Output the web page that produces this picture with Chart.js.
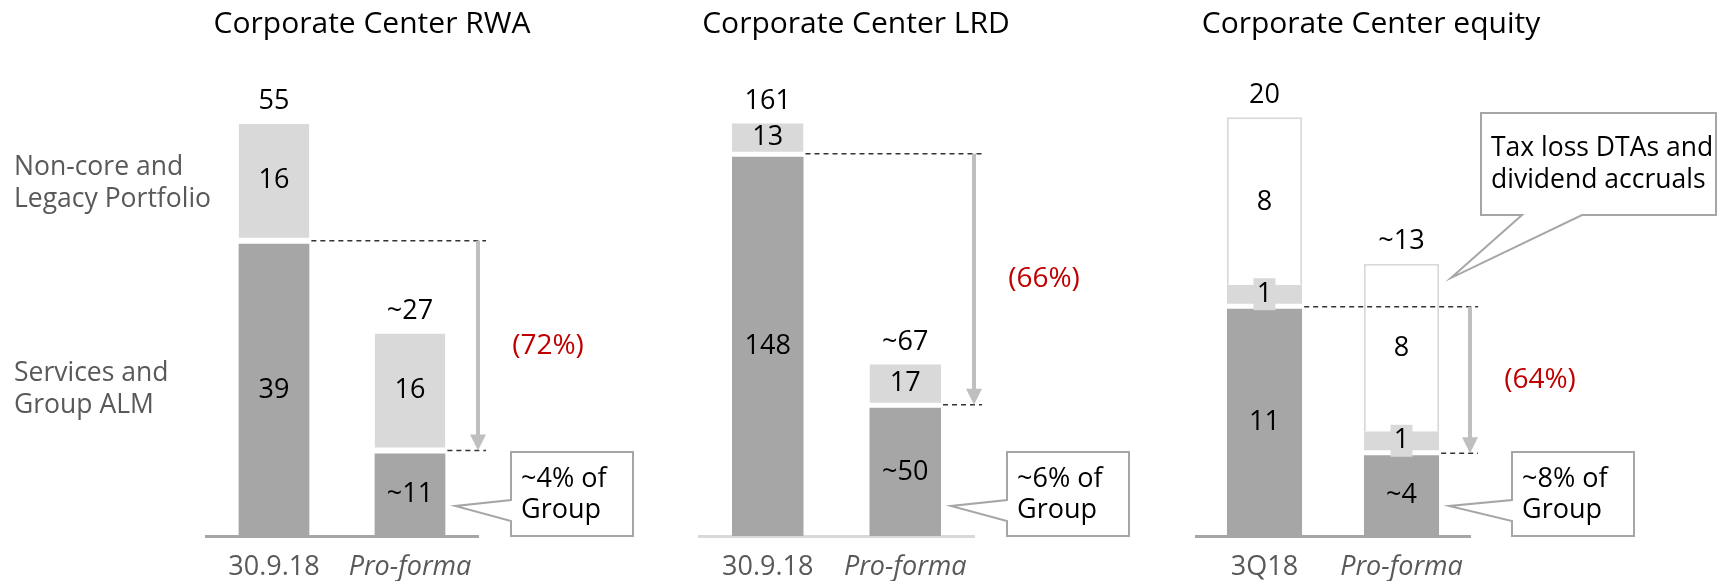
<!DOCTYPE html>
<html lang="en">
<head>
  <meta charset="UTF-8">
  <title>Corporate Center RWA, LRD and equity</title>
  <script src="https://cdn.jsdelivr.net/npm/chart.js"></script>
  <style>
    html, body { margin: 0; padding: 0; background: #fff; overflow: hidden; }
    body { width: 1719px; height: 581px; position: relative; }
    canvas { position: absolute; top: 0; display: block; }
  </style>
</head>
<body>
  <canvas id="rwa" width="650" height="620" style="left:0"></canvas>
  <canvas id="lrd" width="490" height="620" style="left:650px"></canvas>
  <canvas id="equity" width="579" height="620" style="left:1140px"></canvas>

  <script>
    // RWA (CHF bn)
    const rwaLabels = ["30.9.18", "Pro-forma"];
    const rwaServices = [39, 11];
    const rwaNonCore = [16, 16];
    const rwaServicesText = ["39", "~11"];
    const rwaNonCoreText = ["16", "16"];
    const rwaTotals = ["55", "~27"];

    // LRD (CHF bn)
    const lrdLabels = ["30.9.18", "Pro-forma"];
    const lrdServices = [148, 50];
    const lrdNonCore = [13, 17];
    const lrdServicesText = ["148", "~50"];
    const lrdNonCoreText = ["13", "17"];
    const lrdTotals = ["161", "~67"];

    // Equity (CHF bn)
    const eqLabels = ["3Q18", "Pro-forma"];
    const eqServices = [11, 4];
    const eqNonCore = [1, 1];
    const eqTaxDiv = [8, 8];
    const eqServicesText = ["11", "~4"];
    const eqNonCoreText = ["1", "1"];
    const eqTaxDivText = ["8", "8"];
    const eqTotals = ["20", "~13"];

    const sideNonCore = ["Non-core and", "Legacy Portfolio"];
    const sideServices = ["Services and", "Group ALM"];

    const FONT = "'Open Sans', 'Noto Sans', sans-serif";
    const DARK = "#a6a6a6";
    const LIGHT = "#d9d9d9";
    const RED = "#c00000";

    function put(ctx, str, x, y, o) {
      o = o || {};
      ctx.save();
      ctx.font = (o.style || "normal") + " " + (o.size || 27) + "px " + FONT;
      ctx.fillStyle = o.color || "#000";
      ctx.textAlign = o.align || "center";
      ctx.textBaseline = "middle";
      ctx.fillText(str, x, y);
      ctx.restore();
    }

    // box with a pointer on its left side (or bottom side)
    function callout(ctx, b, tip, notch, side) {
      ctx.save();
      ctx.beginPath();
      ctx.moveTo(b.l, b.t);
      ctx.lineTo(b.r, b.t);
      ctx.lineTo(b.r, b.b);
      if (side === "bottom") {
        ctx.lineTo(notch[1], b.b);
        ctx.lineTo(tip.x, tip.y);
        ctx.lineTo(notch[0], b.b);
        ctx.lineTo(b.l, b.b);
      } else {
        ctx.lineTo(b.l, b.b);
        ctx.lineTo(b.l, notch[1]);
        ctx.lineTo(tip.x, tip.y);
        ctx.lineTo(b.l, notch[0]);
      }
      ctx.closePath();
      ctx.fillStyle = "#fff";
      ctx.fill();
      ctx.strokeStyle = "#a6a6a6";
      ctx.lineWidth = 2;
      ctx.stroke();
      ctx.restore();
    }

    function makeChart(p) {
      const canvas = document.getElementById(p.canvas);
      const W = canvas.width;

      const datasets = p.stacks.map(s => ({
        data: s.data,
        backgroundColor: s.fill,
        borderColor: s.line || "#fff",
        borderWidth: s.border || 0,
        borderSkipped: false,
        barPercentage: p.barPct,
        categoryPercentage: 1
      }));

      const annotate = {
        id: "annotate",
        afterDraw(chart) {
          const ctx = chart.ctx;
          const ys = chart.scales.y;
          const area = chart.chartArea;
          const zero = ys.getPixelForValue(0);

          // title
          put(ctx, p.title, p.titleX, 24, { size: 30 });

          // segment labels
          p.stacks.forEach((s, di) => {
            const meta = chart.getDatasetMeta(di);
            meta.data.forEach((el, i) => {
              const bt = (s.border && s.border.top) || 0;
              const bb = (s.border && s.border.bottom) || 0;
              const cy = (el.y + bt + el.base - bb) / 2;
              if (s.tag) {
                ctx.fillStyle = s.fill;
                ctx.fillRect(el.x - 11, cy - 16, 22, 32);
              }
              put(ctx, s.text[i], el.x, cy);
            });
          });

          // totals above the bars
          const topMeta = chart.getDatasetMeta(p.stacks.length - 1);
          topMeta.data.forEach((el, i) => {
            put(ctx, p.totals[i], el.x, el.y - 22);
          });

          // side labels (first panel only)
          (p.side || []).forEach(sl => {
            const el = chart.getDatasetMeta(sl.ds).data[0];
            const cy = (el.y + el.base) / 2;
            sl.lines.forEach((t, k) => {
              put(ctx, t, 14, cy + (k - 0.5) * 32, { size: 26.5, color: "#595959", align: "left" });
            });
          });

          // dashed guides + arrow
          const b0 = chart.getDatasetMeta(0).data[0];
          const b1 = chart.getDatasetMeta(0).data[1];
          const ax = area.right;
          const y0 = ys.getPixelForValue(p.stacks[0].data[0]) + p.lineShift;
          const y1 = ys.getPixelForValue(p.stacks[0].data[1]) + p.lineShift;
          ctx.save();
          ctx.strokeStyle = "#333";
          ctx.lineWidth = 1.5;
          ctx.setLineDash([5, 4]);
          ctx.beginPath();
          ctx.moveTo(b0.x + b0.width / 2 + 2, y0);
          ctx.lineTo(ax + 8, y0);
          ctx.moveTo(b1.x + b1.width / 2 + 2, y1);
          ctx.lineTo(ax + 8, y1);
          ctx.stroke();
          ctx.setLineDash([]);
          ctx.strokeStyle = "#bfbfbf";
          ctx.lineWidth = 4;
          ctx.beginPath();
          ctx.moveTo(ax, y0);
          ctx.lineTo(ax, y1 - 15);
          ctx.stroke();
          ctx.fillStyle = "#bfbfbf";
          ctx.beginPath();
          ctx.moveTo(ax - 8, y1 - 16);
          ctx.lineTo(ax + 8, y1 - 16);
          ctx.lineTo(ax, y1);
          ctx.closePath();
          ctx.fill();
          ctx.restore();
          put(ctx, p.change, ax + 70, (y0 + y1) / 2, { color: RED, size: 28 });

          // share of Group callout
          const box = { l: ax + p.boxGap, r: ax + p.boxGap + 122, t: zero - 84, b: zero };
          callout(ctx, box, { x: b1.x + b1.width / 2 + 10, y: zero - 30 }, [zero - 36, zero - 15]);
          p.share.forEach((t, k) => put(ctx, t, box.l + 10, box.t + 27 + k * 31, { size: 27, align: "left" }));

          // extra callout (equity)
          if (p.note) {
            const top1 = topMeta.data[1];
            const nb = { l: ax + 11, r: ax + 246, t: 113, b: 215 };
            callout(ctx, nb, { x: top1.x + top1.width / 2 + 12, y: top1.y + 14 },
              [nb.l + 41, nb.l + 101], "bottom");
            p.note.forEach((t, k) => put(ctx, t, nb.l + 10, nb.t + 35 + k * 32, { size: 26.5, align: "left" }));
          }
        }
      };

      return new Chart(canvas, {
        type: "bar",
        data: { labels: p.labels, datasets },
        options: {
          responsive: false,
          animation: false,
          events: [],
          layout: { padding: { left: p.areaLeft, right: W - p.areaRight, top: 90, bottom: 21 } },
          plugins: { legend: { display: false }, tooltip: { enabled: false } },
          scales: {
            x: {
              stacked: true,
              grid: { display: false, drawTicks: false },
              border: { display: true, color: p.axisColor, width: 3 },
              ticks: {
                color: "#595959",
                padding: 18,
                font: c => ({ family: FONT, size: 27, lineHeight: 1, style: c.index === 1 ? "italic" : "normal" })
              }
            },
            y: { stacked: true, display: false, min: 0, max: p.yMax }
          }
        },
        plugins: [annotate]
      });
    }

    makeChart({
      canvas: "rwa", title: "Corporate Center RWA", titleX: 372,
      labels: rwaLabels, yMax: 59.5, barPct: 0.52, axisColor: "#a6a6a6",
      areaLeft: 206, areaRight: 478, lineShift: -3, boxGap: 33,
      stacks: [
        { data: rwaServices, text: rwaServicesText, fill: DARK },
        { data: rwaNonCore, text: rwaNonCoreText, fill: LIGHT, border: { bottom: 6 } }
      ],
      totals: rwaTotals,
      side: [{ ds: 1, lines: sideNonCore }, { ds: 0, lines: sideServices }],
      change: "(72%)",
      share: ["~4% of", "Group"]
    });

    makeChart({
      canvas: "lrd", title: "Corporate Center LRD", titleX: 206,
      labels: lrdLabels, yMax: 174, barPct: 0.52, axisColor: "#d9d9d9",
      areaLeft: 49, areaRight: 324, lineShift: -3, boxGap: 33,
      stacks: [
        { data: lrdServices, text: lrdServicesText, fill: DARK },
        { data: lrdNonCore, text: lrdNonCoreText, fill: LIGHT, border: { bottom: 5 } }
      ],
      totals: lrdTotals,
      change: "(66%)",
      share: ["~6% of", "Group"]
    });

    makeChart({
      canvas: "equity", title: "Corporate Center equity", titleX: 231,
      labels: eqLabels, yMax: 21.3, barPct: 0.55, axisColor: "#a6a6a6",
      areaLeft: 56, areaRight: 330, lineShift: 1, boxGap: 42,
      stacks: [
        { data: eqServices, text: eqServicesText, fill: DARK, border: { top: 3 } },
        { data: eqNonCore, text: eqNonCoreText, fill: LIGHT, border: { bottom: 2 }, tag: true },
        { data: eqTaxDiv, text: eqTaxDivText, fill: "#fff", line: "#d9d9d9", border: { top: 2, left: 2, right: 2 } }
      ],
      totals: eqTotals,
      change: "(64%)",
      share: ["~8% of", "Group"],
      note: ["Tax loss DTAs and", "dividend accruals"]
    });
  </script>
</body>
</html>
